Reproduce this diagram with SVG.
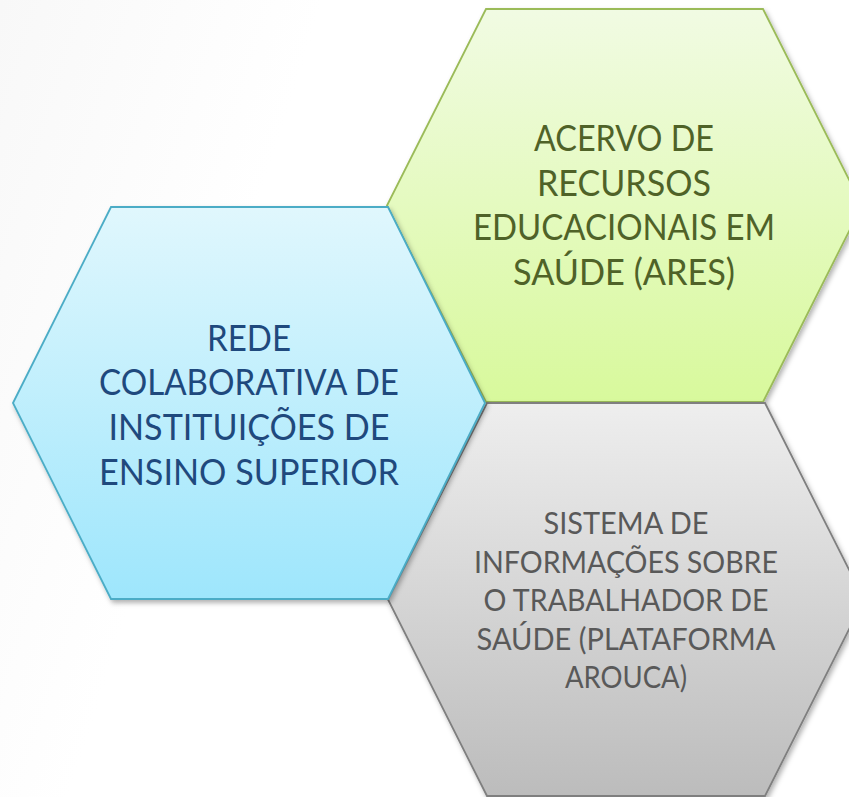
<svg xmlns="http://www.w3.org/2000/svg" width="849" height="797" viewBox="0 0 849 797">
  <defs>
    <linearGradient id="bg" x1="0" y1="0" x2="1" y2="0.3">
      <stop offset="0" stop-color="#f8f8f8"/>
      <stop offset="0.35" stop-color="#ffffff"/>
      <stop offset="1" stop-color="#ffffff"/>
    </linearGradient>
    <linearGradient id="gBlue" x1="0" y1="0" x2="0" y2="1">
      <stop offset="0" stop-color="#e0f7fd"/>
      <stop offset="1" stop-color="#9ee6fc"/>
    </linearGradient>
    <linearGradient id="gGreen" x1="0" y1="0" x2="0" y2="1">
      <stop offset="0" stop-color="#f1fbe3"/>
      <stop offset="1" stop-color="#d8f99c"/>
    </linearGradient>
    <linearGradient id="gGray" x1="0" y1="0" x2="0" y2="1">
      <stop offset="0" stop-color="#eeeeee"/>
      <stop offset="1" stop-color="#bcbcbc"/>
    </linearGradient>
    <filter id="shadow" x="-10%" y="-10%" width="120%" height="120%">
      <feDropShadow dx="2" dy="3" stdDeviation="2.5" flood-color="#000" flood-opacity="0.3"/>
    </filter>
  </defs>
  <style>
    .hex { stroke-width: 1.8; stroke-linejoin: miter; filter: url(#shadow); }
    .lbl { font-family: Lato, "Open Sans", "Liberation Sans", sans-serif; text-anchor: middle; }
    .big { font-size: 36.5px; }
    .small { font-size: 31px; }
  </style>
  <rect x="0" y="0" width="849" height="797" fill="url(#bg)"/>

  <g id="node-ares">
    <polygon class="hex" points="387,205.5 486,9 763,9 862,205.5 763,402 486,402" fill="url(#gGreen)" stroke="#9bbb59"/>
    <g class="lbl big" fill="#4f6228">
      <text x="624" y="151" textLength="180" lengthAdjust="spacingAndGlyphs">ACERVO DE</text>
      <text x="624" y="195.5" textLength="174" lengthAdjust="spacingAndGlyphs">RECURSOS</text>
      <text x="624" y="240" textLength="302" lengthAdjust="spacingAndGlyphs">EDUCACIONAIS EM</text>
      <text x="624" y="285" textLength="222" lengthAdjust="spacingAndGlyphs">SAÚDE (ARES)</text>
    </g>
  </g>

  <g id="node-arouca">
    <polygon class="hex" points="388,599.5 487,403 765,403 864,599.5 765,796 487,796" fill="url(#gGray)" stroke="#7f7f7f"/>
    <g class="lbl small" fill="#595959">
      <text x="626" y="534" textLength="165" lengthAdjust="spacingAndGlyphs">SISTEMA DE</text>
      <text x="626" y="572.5" textLength="304" lengthAdjust="spacingAndGlyphs">INFORMAÇÕES SOBRE</text>
      <text x="626" y="611" textLength="285" lengthAdjust="spacingAndGlyphs">O TRABALHADOR DE</text>
      <text x="626" y="649.5" textLength="299" lengthAdjust="spacingAndGlyphs">SAÚDE (PLATAFORMA</text>
      <text x="626" y="688" textLength="122" lengthAdjust="spacingAndGlyphs">AROUCA)</text>
    </g>
  </g>

  <g id="node-rede">
    <polygon class="hex" points="13,403 111,207 388,207 485,403 388,599 111,599" fill="url(#gBlue)" stroke="#4bacc6"/>
    <g class="lbl big" fill="#1f497d">
      <text x="249" y="350.5" textLength="84" lengthAdjust="spacingAndGlyphs">REDE</text>
      <text x="249" y="395" textLength="300" lengthAdjust="spacingAndGlyphs">COLABORATIVA DE</text>
      <text x="249" y="440" textLength="281" lengthAdjust="spacingAndGlyphs">INSTITUIÇÕES DE</text>
      <text x="249" y="484.5" textLength="300" lengthAdjust="spacingAndGlyphs">ENSINO SUPERIOR</text>
    </g>
  </g>

  <g id="connectors"></g>
</svg>
